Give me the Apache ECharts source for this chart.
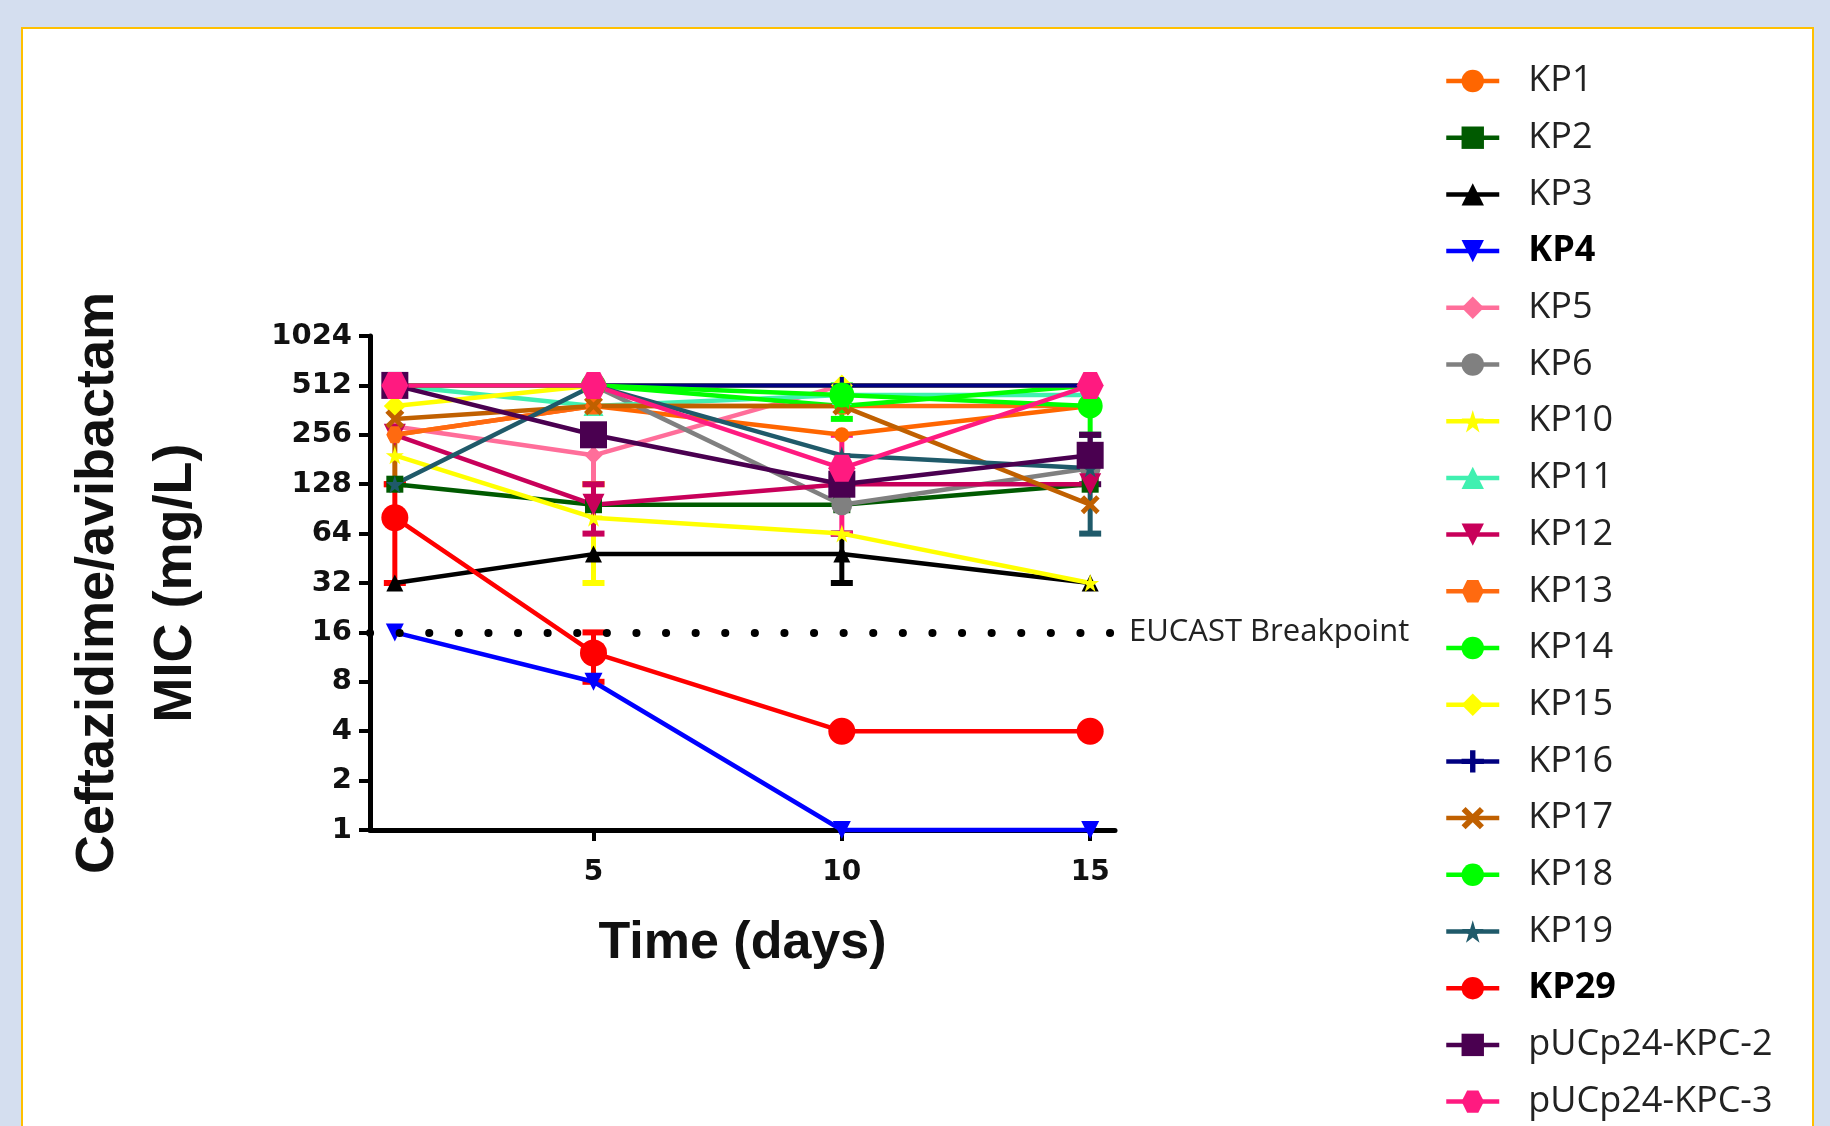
<!DOCTYPE html>
<html>
<head>
<meta charset="utf-8">
<script src="https://cdn.jsdelivr.net/npm/echarts@6/dist/echarts.min.js"></script>
<style>
    html, body { margin: 0; padding: 0; background: #D4DEEF; }
    body { position: relative; width: 1830px; height: 1126px; overflow: hidden; }
    #panel { position: absolute; left: 21px; top: 27px; width: 1789px; height: 1200px; background: #fff; border: 2px solid #FFC000; }
    #chart { position: absolute; left: 0; top: 0; width: 1830px; height: 1126px; }
</style>
</head>
<body>
<div id="panel"></div>
<div id="chart"></div>
<script>
// 时间点（天）
const days = [1, 5, 10, 15];
const dayTicks = [5, 10, 15];
const breakpoint = 16;

// 各菌株 MIC (mg/L)
const kp1 = [256, 384, 256, 384];
const kp2 = [128, 96, 96, 128];
const kp3 = [32, 48, 48, 32];
const kp4 = [16, 8, 1, 1];
const kp5 = [288, 192, 512, 512];
const kp6 = [512, 512, 96, 160];
const kp10 = [192, 80, 64, 32];
const kp11 = [512, 384, 448, 448];
const kp12 = [256, 96, 128, 128];
const kp13 = [256, 384, 384, 384];
const kp14 = [512, 512, 384, 512];
const kp15 = [384, 512, 512, 512];
const kp16 = [512, 512, 512, 512];
const kp17 = [320, 384, 384, 96];
const kp18 = [512, 512, 448, 384];
const kp19 = [128, 512, 192, 160];
const kp29 = [80, 12, 4, 4];
const kpc2 = [512, 256, 128, 192];
const kpc3 = [512, 512, 160, 512];

// 误差线 [天, 下限, 上限]
const errKP5 = [[5, 128, 256]];
const errKP10 = [[5, 32, 128]];
const errKP12 = [[5, 64, 128]];
const errKP3 = [[10, 32, 64]];
const errKP17 = [[1, 128, 512]];
const errKP18 = [[10, 320, 512], [15, 256, 512]];
const errKP19 = [[15, 64, 256]];
const errKP29 = [[1, 32, 128], [5, 8, 16]];
const errKPC2 = [[15, 128, 256]];
const errKPC3 = [[10, 64, 256]];

// 自定义符号
const STAR = 'path://M50,0 L61,35 L98,35 L68,57 L79,91 L50,70 L21,91 L32,57 L2,35 L39,35 Z';
const PLUS = 'path://M38,0 H62 V38 H100 V62 H62 V100 H38 V62 H0 V38 H38 Z';
const CROSS = 'path://M18,0 L50,32 L82,0 L100,18 L68,50 L100,82 L82,100 L50,68 L18,100 L0,82 L32,50 L0,18 Z';
const HEX = 'path://M25,0 H75 L100,50 L75,100 H25 L0,50 Z';

const strains = [
    { name: 'KP1', data: kp1, color: '#FF6600', symbol: 'circle', size: 15 },
    { name: 'KP2', data: kp2, color: '#005A00', symbol: 'rect', size: 17 },
    { name: 'KP3', data: kp3, color: '#000000', symbol: 'triangle', size: 17, err: errKP3 },
    { name: 'KP4', data: kp4, color: '#0000FF', symbol: 'triangle', size: 18, rotate: 180, bold: true },
    { name: 'KP5', data: kp5, color: '#FF6E9A', symbol: 'diamond', size: 18, err: errKP5 },
    { name: 'KP6', data: kp6, color: '#808080', symbol: 'circle', size: 21 },
    { name: 'KP10', data: kp10, color: '#FFFF00', symbol: STAR, size: 18, err: errKP10 },
    { name: 'KP11', data: kp11, color: '#40F0B0', symbol: 'triangle', size: 20 },
    { name: 'KP12', data: kp12, color: '#C8005A', symbol: 'triangle', size: 22, rotate: 180, err: errKP12 },
    { name: 'KP13', data: kp13, color: '#FF6A10', symbol: HEX, size: 17 },
    { name: 'KP14', data: kp14, color: '#00FF00', symbol: 'circle', size: 15 },
    { name: 'KP15', data: kp15, color: '#FFFF00', symbol: 'diamond', size: 22 },
    { name: 'KP16', data: kp16, color: '#000080', symbol: PLUS, size: 17 },
    { name: 'KP17', data: kp17, color: '#C06000', symbol: CROSS, size: 19, err: errKP17 },
    { name: 'KP18', data: kp18, color: '#00FF00', symbol: 'circle', size: 25, err: errKP18 },
    { name: 'KP19', data: kp19, color: '#1F5A6A', symbol: STAR, size: 18, err: errKP19 },
    { name: 'KP29', data: kp29, color: '#FF0000', symbol: 'circle', size: 27, bold: true, err: errKP29 },
    { name: 'pUCp24-KPC-2', data: kpc2, color: '#4A0050', symbol: 'rect', size: 27, err: errKPC2 },
    { name: 'pUCp24-KPC-3', data: kpc3, color: '#FF1A80', symbol: HEX, size: 27, err: errKPC3 }
];

const errorBar = (color) => (params, api) => {
    const x = api.value(0);
    const lo = api.coord([x, api.value(1)]);
    const hi = api.coord([x, api.value(2)]);
    const hw = 11;
    const cap = { stroke: color, lineWidth: 6 };
    return {
        type: 'group',
        children: [
            { type: 'line', shape: { x1: lo[0], y1: lo[1], x2: hi[0], y2: hi[1] }, style: { stroke: color, lineWidth: 5 } },
            { type: 'line', shape: { x1: lo[0] - hw, y1: lo[1], x2: lo[0] + hw, y2: lo[1] }, style: cap },
            { type: 'line', shape: { x1: hi[0] - hw, y1: hi[1], x2: hi[0] + hw, y2: hi[1] }, style: cap }
        ]
    };
};

const series = [];
strains.forEach((s, i) => {
    if (s.err) {
        series.push({
            name: s.name + ' err',
            type: 'custom',
            renderItem: errorBar(s.color),
            data: s.err,
            encode: { x: 0, y: [1, 2] },
            z: 2,
            silent: true
        });
    }
    const line = {
        name: s.name,
        type: 'line',
        data: days.map((d, k) => [d, s.data[k]]),
        symbol: s.symbol,
        symbolSize: s.size,
        symbolRotate: s.rotate || 0,
        lineStyle: { color: s.color, width: 4.5 },
        itemStyle: { color: s.color },
        clip: false,
        z: 2
    };
    if (i === 0) {
        line.markLine = {
            silent: true,
            symbol: 'none',
            data: [{ yAxis: breakpoint }],
            lineStyle: { color: '#000', width: 8, type: [0.1, 29.5], cap: 'round' },
            label: {
                position: 'end',
                formatter: 'EUCAST Breakpoint',
                color: '#222',
                fontFamily: 'Open Sans',
                fontSize: 31,
                distance: 14
            }
        };
    }
    series.push(line);
});

const chart = echarts.init(document.getElementById('chart'));
chart.setOption({
    animation: false,
    grid: { left: 370, right: 715, top: 336, bottom: 296 },
    legend: {
        orient: 'vertical',
        left: 1444,
        top: 61,
        padding: 0,
        itemWidth: 53,
        itemHeight: 28,
        itemGap: 16.7,
        lineStyle: { width: 4.5 },
        data: strains.map(s => s.bold
            ? { name: s.name, textStyle: { fontWeight: 'bold', color: '#000' } }
            : s.name),
        textStyle: {
            fontFamily: 'Open Sans',
            fontSize: 36,
            lineHeight: 40,
            color: '#222',
            padding: [0, 0, 0, 24]
        }
    },
    xAxis: {
        type: 'value',
        min: 0.5,
        max: 15.5,
        name: 'Time (days)',
        nameLocation: 'middle',
        nameGap: 88,
        nameTextStyle: { fontFamily: 'Liberation Sans', fontWeight: 'bold', fontSize: 52, color: '#111' },
        axisLine: { lineStyle: { color: '#000', width: 5 } },
        axisTick: { customValues: dayTicks, length: 11, lineStyle: { color: '#000', width: 4 } },
        axisLabel: {
            customValues: dayTicks,
            margin: 29,
            fontFamily: 'DejaVu Sans',
            fontWeight: 'bold',
            fontSize: 28,
            color: '#111'
        },
        splitLine: { show: false }
    },
    yAxis: {
        type: 'log',
        logBase: 2,
        min: 1,
        max: 1024,
        interval: 1,
        name: 'Ceftazidime/avibactam\nMIC (mg/L)',
        nameLocation: 'middle',
        nameGap: 155,
        nameTextStyle: { fontFamily: 'Liberation Sans', fontWeight: 'bold', fontSize: 54, lineHeight: 78, color: '#111' },
        axisLine: { show: true, lineStyle: { color: '#000', width: 5 } },
        axisTick: { length: 11, lineStyle: { color: '#000', width: 4 } },
        axisLabel: {
            margin: 18,
            formatter: (v) => String(Math.round(v)),
            fontFamily: 'DejaVu Sans',
            fontWeight: 'bold',
            fontSize: 29,
            color: '#111'
        },
        splitLine: { show: false }
    },
    series: series
});
</script>
</body>
</html>
